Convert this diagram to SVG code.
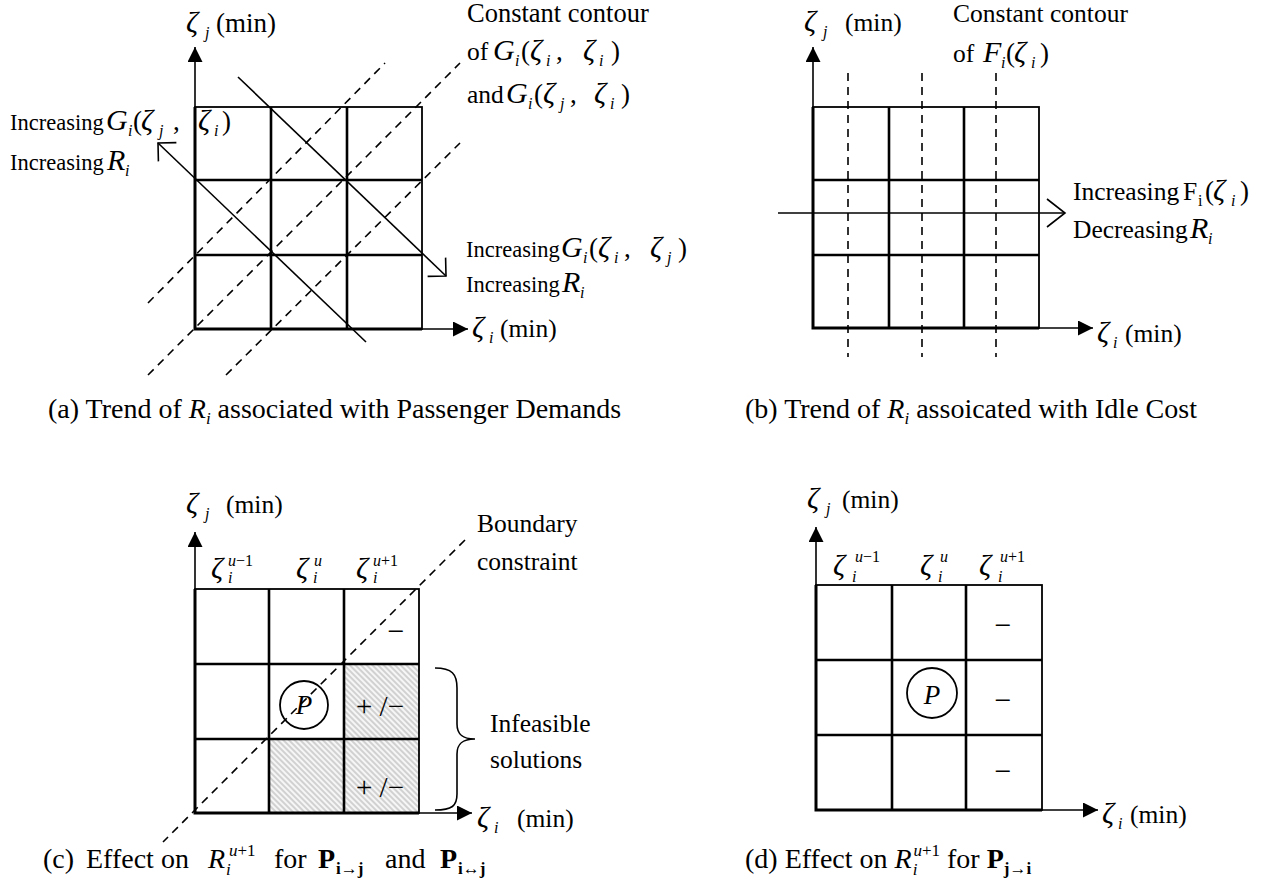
<svg xmlns="http://www.w3.org/2000/svg" width="1263" height="888" viewBox="0 0 1263 888">
<defs>
<style>
text{font-family:"Liberation Serif","Times New Roman",serif;fill:#000}
.la{font-size:22.5px}
.lb{font-size:25.5px}
.cap{font-size:28px}
.z{font-size:30px;font-style:italic}
.eq{font-size:27px}
.it{font-style:italic}
.sb{font-size:16px;font-style:italic}
.sr{font-size:16px}
.cs{font-size:17px;font-style:italic}
.cr{font-size:17px}
.cb{font-size:17px;font-weight:bold}
.bf{font-weight:bold}
.mid{text-anchor:middle}
.mn{font-size:30px;text-anchor:middle}
.pm{font-size:29px;text-anchor:middle}
.go{stroke:#000;stroke-width:1.8;fill:none}
.gi{stroke:#000;stroke-width:2.6;fill:none}
.ge{stroke:#000;stroke-width:3;fill:none}
.ax{stroke:#000;stroke-width:1.6;fill:none;marker-end:url(#tri)}
.dl{stroke:#000;stroke-width:1.6;fill:none;stroke-dasharray:8 6}
.sl{stroke:#000;stroke-width:1.6;fill:none}
</style>
<marker id="tri" markerUnits="userSpaceOnUse" markerWidth="16" markerHeight="16" refX="15" refY="7.5" orient="auto"><path d="M0,0 L15,7.5 L0,15 z" fill="#000"/></marker>
<marker id="o45" markerUnits="userSpaceOnUse" markerWidth="16" markerHeight="28" refX="13" refY="13" orient="auto" overflow="visible"><path d="M0,0 L13,13 L0,26" fill="none" stroke="#000" stroke-width="1.6"/></marker>
<marker id="ob" markerUnits="userSpaceOnUse" markerWidth="20" markerHeight="30" refX="18" refY="14" orient="auto" overflow="visible"><path d="M0,0 L18,14 L0,28" fill="none" stroke="#000" stroke-width="1.6"/></marker>
<pattern id="hatch" patternUnits="userSpaceOnUse" width="4" height="4" patternTransform="rotate(-45)"><rect width="4" height="4" fill="#f6f6f6"/><line x1="1" y1="0" x2="1" y2="4" stroke="#b9b9b9" stroke-width="1.2"/></pattern>
</defs>
<rect width="1263" height="888" fill="#fff"/>

<!-- Panel (a) -->
<g id="panel-a">
  <rect x="195" y="107" width="227" height="222" class="go"/>
  <path d="M271,107V329 M347,107V329 M195,180H422 M195,255H422" class="gi"/>
  <path d="M195,107V329H422" class="ge"/>
  <g id="a-lines">
    <line x1="195" y1="329" x2="195" y2="47" class="ax"/>
    <line x1="195" y1="329" x2="468" y2="329" class="ax"/>
    <line x1="148" y1="303" x2="385" y2="63" class="dl"/>
    <line x1="148" y1="375" x2="460" y2="63" class="dl"/>
    <line x1="226" y1="375" x2="460" y2="143" class="dl"/>
    <line x1="238" y1="77" x2="446" y2="276" class="sl" marker-end="url(#o45)"/>
    <line x1="366" y1="342" x2="158" y2="143" class="sl" marker-end="url(#o45)"/>
  </g>
  <text class="lb" style="font-size:27px"><tspan x="186" y="32" class="z">ζ</tspan><tspan x="205" y="38" class="sb">j</tspan><tspan x="216" y="32">(min)</tspan></text>
  <text class="la"><tspan x="10" y="130">Increasing</tspan><tspan x="106" class="z">G</tspan><tspan x="128" y="136" class="sb">i</tspan><tspan x="133" y="130" class="eq">(</tspan><tspan x="141" class="z">ζ</tspan><tspan x="159" y="136" class="sb">j</tspan><tspan x="173" y="130" class="eq">,</tspan><tspan x="198" class="z">ζ</tspan><tspan x="214" y="136" class="sb">i</tspan><tspan x="222" y="130" class="eq">)</tspan></text>
  <text class="la"><tspan x="10" y="170">Increasing</tspan><tspan x="107" class="z">R</tspan><tspan x="125" y="176" class="sb">i</tspan></text>
  <text class="lb" x="467" y="22" style="font-size:26.5px">Constant contour</text>
  <text class="lb"><tspan x="467" y="60">of</tspan><tspan x="493" class="z">G</tspan><tspan x="515" y="66" class="sb">i</tspan><tspan x="521" y="60" class="eq">(</tspan><tspan x="530" class="z">ζ</tspan><tspan x="546" y="66" class="sb">i</tspan><tspan x="556" y="60" class="eq">,</tspan><tspan x="583" class="z">ζ</tspan><tspan x="599" y="66" class="sb">i</tspan><tspan x="611" y="60" class="eq">)</tspan></text>
  <text class="lb"><tspan x="467" y="103">and</tspan><tspan x="506" class="z">G</tspan><tspan x="528" y="109" class="sb">i</tspan><tspan x="534" y="103" class="eq">(</tspan><tspan x="543" class="z">ζ</tspan><tspan x="560" y="109" class="sb">j</tspan><tspan x="570" y="103" class="eq">,</tspan><tspan x="594" class="z">ζ</tspan><tspan x="610" y="109" class="sb">i</tspan><tspan x="621" y="103" class="eq">)</tspan></text>
  <text class="la"><tspan x="466" y="257">Increasing</tspan><tspan x="561" class="z">G</tspan><tspan x="583" y="263" class="sb">i</tspan><tspan x="589" y="257" class="eq">(</tspan><tspan x="598" class="z">ζ</tspan><tspan x="614" y="263" class="sb">i</tspan><tspan x="624" y="257" class="eq">,</tspan><tspan x="650" class="z">ζ</tspan><tspan x="667" y="263" class="sb">j</tspan><tspan x="678" y="257" class="eq">)</tspan></text>
  <text class="la"><tspan x="466" y="292">Increasing</tspan><tspan x="562" class="z">R</tspan><tspan x="580" y="298" class="sb">i</tspan></text>
  <text class="lb"><tspan x="472" y="337" class="z">ζ</tspan><tspan x="489" y="343" class="sb">i</tspan><tspan x="500" y="337">(min)</tspan></text>
  <text class="cap" x="48" y="418">(a) Trend of <tspan class="it">R</tspan><tspan class="cs" dy="6">i</tspan><tspan dy="-6"> associated with Passenger Demands</tspan></text>
</g>

<!-- Panel (b) -->
<g id="panel-b">
  <rect x="813" y="107" width="226" height="221" class="go"/>
  <path d="M889,107V328 M964,107V328 M813,180H1039 M813,255H1039" class="gi"/>
  <path d="M813,107V328H1039" class="ge"/>
  <g id="b-lines">
    <line x1="813" y1="328" x2="813" y2="47" class="ax"/>
    <line x1="813" y1="328" x2="1093" y2="328" class="ax"/>
    <line x1="848" y1="73" x2="848" y2="357" class="dl"/>
    <line x1="922" y1="73" x2="922" y2="357" class="dl"/>
    <line x1="996" y1="73" x2="996" y2="357" class="dl"/>
    <line x1="778" y1="213" x2="1065" y2="213" class="sl" marker-end="url(#ob)"/>
  </g>
  <text class="lb"><tspan x="804" y="31" class="z">ζ</tspan><tspan x="823" y="37" class="sb">j</tspan><tspan x="845" y="31">(min)</tspan></text>
  <text class="lb" x="953" y="22">Constant contour</text>
  <text class="lb"><tspan x="953" y="62">of</tspan><tspan x="983" class="z">F</tspan><tspan x="1001" y="68" class="sb">i</tspan><tspan x="1006" y="62" class="eq">(</tspan><tspan x="1014" class="z">ζ</tspan><tspan x="1031" y="68" class="sb">i</tspan><tspan x="1040" y="62" class="eq">)</tspan></text>
  <text class="lb"><tspan x="1073" y="200">Increasing</tspan><tspan x="1183">F</tspan><tspan x="1198" y="206" class="sr">i</tspan><tspan x="1205" y="200" class="eq">(</tspan><tspan x="1213" class="z">ζ</tspan><tspan x="1231" y="206" class="sb">i</tspan><tspan x="1240" y="200" class="eq">)</tspan></text>
  <text class="lb"><tspan x="1073" y="238">Decreasing</tspan><tspan x="1190" class="z">R</tspan><tspan x="1208" y="244" class="sb">i</tspan></text>
  <text class="lb"><tspan x="1097" y="342" class="z">ζ</tspan><tspan x="1113" y="348" class="sb">i</tspan><tspan x="1125" y="342">(min)</tspan></text>
  <text class="cap" x="745" y="418">(b) Trend of <tspan class="it">R</tspan><tspan class="cs" dy="6">i</tspan><tspan dy="-6"> assoicated with Idle Cost</tspan></text>
</g>

<!-- Panel (c) -->
<g id="panel-c">
  <rect x="344" y="664" width="75" height="75" fill="url(#hatch)"/>
  <rect x="269" y="739" width="75" height="74" fill="url(#hatch)"/>
  <rect x="344" y="739" width="75" height="74" fill="url(#hatch)"/>
  <rect x="195" y="589" width="224" height="224" class="go"/>
  <path d="M269,589V813 M344,589V813 M195,664H419 M195,739H419" class="gi"/>
  <path d="M195,589V813H419" class="ge"/>
  <g id="c-lines">
    <line x1="195" y1="813" x2="195" y2="532" class="ax"/>
    <line x1="195" y1="813" x2="472" y2="813" class="ax"/>
    <line x1="465" y1="540" x2="163" y2="842" class="dl"/>
    <path d="M435,668 C452,668 457,674 457,688 L457,724 C457,734 462,739 475,739 C462,739 457,744 457,754 L457,794 C457,806 452,810 435,810" class="sl" stroke-width="2"/>
  </g>
  <g id="c-P">
    <circle cx="304" cy="705" r="24" fill="none" stroke="#000" stroke-width="1.8"/>
    <text class="lb it mid" x="304" y="714" style="font-size:27px">P</text>
  </g>
  <text class="lb"><tspan x="186" y="513" class="z">ζ</tspan><tspan x="205" y="519" class="sb">j</tspan><tspan x="226" y="513">(min)</tspan></text>
  <text class="lb"><tspan x="211" y="578" class="z">ζ</tspan><tspan x="228" y="566" class="sb">u</tspan><tspan class="sr">−1</tspan><tspan x="228" y="583" class="sb">i</tspan></text>
  <text class="lb"><tspan x="296" y="578" class="z">ζ</tspan><tspan x="314" y="566" class="sb">u</tspan><tspan x="313" y="583" class="sb">i</tspan></text>
  <text class="lb"><tspan x="356" y="578" class="z">ζ</tspan><tspan x="373" y="566" class="sb">u</tspan><tspan class="sr">+1</tspan><tspan x="373" y="583" class="sb">i</tspan></text>
  <text class="mn" x="396" y="641">−</text>
  <text class="pm" x="380" y="716">+ /−</text>
  <text class="pm" x="380" y="797">+ /−</text>
  <text class="lb" x="477" y="532">Boundary</text>
  <text class="lb" x="477" y="570">constraint</text>
  <text class="lb" x="490" y="732">Infeasible</text>
  <text class="lb" x="490" y="768">solutions</text>
  <text class="lb"><tspan x="477" y="827" class="z">ζ</tspan><tspan x="494" y="833" class="sb">i</tspan><tspan x="517" y="827">(min)</tspan></text>
  <text class="cap" y="868"><tspan x="43">(c)</tspan><tspan x="86">Effect on</tspan><tspan x="208" class="it">R</tspan><tspan x="226" y="875" class="cs">i</tspan><tspan x="229" y="856" class="cs">u</tspan><tspan class="cr">+1</tspan><tspan x="274" y="868">for</tspan><tspan x="318" class="bf">P</tspan><tspan x="336" y="874" class="cb">i→j</tspan><tspan x="385" y="868">and</tspan><tspan x="440" class="bf">P</tspan><tspan x="458" y="874" class="cb">i↔j</tspan></text>
</g>

<!-- Panel (d) -->
<g id="panel-d">
  <rect x="816" y="585" width="226" height="225" class="go"/>
  <path d="M892,585V810 M966,585V810 M816,660H1042 M816,735H1042" class="gi"/>
  <path d="M816,585V810H1042" class="ge"/>
  <g id="d-lines">
    <line x1="816" y1="810" x2="816" y2="527" class="ax"/>
    <line x1="816" y1="810" x2="1098" y2="810" class="ax"/>
  </g>
  <g id="d-P">
    <circle cx="932" cy="693" r="25" fill="none" stroke="#000" stroke-width="1.8"/>
    <text class="lb it mid" x="932" y="704" style="font-size:27px">P</text>
  </g>
  <text class="lb"><tspan x="807" y="508" class="z">ζ</tspan><tspan x="826" y="514" class="sb">j</tspan><tspan x="842" y="508">(min)</tspan></text>
  <text class="lb"><tspan x="833" y="575" class="z">ζ</tspan><tspan x="855" y="562" class="sb">u</tspan><tspan class="sr">−1</tspan><tspan x="852" y="582" class="sb">i</tspan></text>
  <text class="lb"><tspan x="920" y="575" class="z">ζ</tspan><tspan x="940" y="562" class="sb">u</tspan><tspan x="938" y="582" class="sb">i</tspan></text>
  <text class="lb"><tspan x="979" y="575" class="z">ζ</tspan><tspan x="1000" y="562" class="sb">u</tspan><tspan class="sr">+1</tspan><tspan x="998" y="582" class="sb">i</tspan></text>
  <text class="mn" x="1003" y="635">−</text>
  <text class="mn" x="1003" y="710">−</text>
  <text class="mn" x="1003" y="781">−</text>
  <text class="lb"><tspan x="1102" y="823" class="z">ζ</tspan><tspan x="1118" y="829" class="sb">i</tspan><tspan x="1130" y="823">(min)</tspan></text>
  <text class="cap" x="745" y="868">(d) Effect on <tspan class="it">R</tspan><tspan class="cs" dx="1" dy="7">i</tspan><tspan class="cs" dx="-4" dy="-19">u</tspan><tspan class="cr">+1</tspan><tspan dy="12"> for </tspan><tspan class="bf">P</tspan><tspan class="cb" dy="6">j→i</tspan></text>
</g>
</svg>
